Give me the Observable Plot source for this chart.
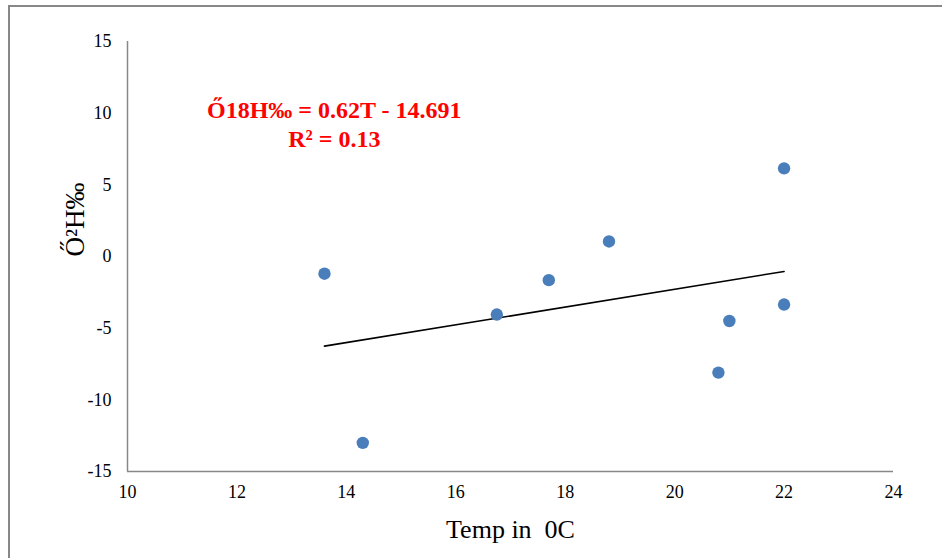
<!DOCTYPE html>
<html>
<head>
<meta charset="utf-8">
<script src="https://cdn.jsdelivr.net/npm/d3@7"></script>
<script src="https://cdn.jsdelivr.net/npm/@observablehq/plot@0.6"></script>
<style>
  html, body { margin: 0; padding: 0; background: #fff; overflow: hidden; }
  #wrap { position: relative; width: 942px; height: 558px; }
  #frame { position: absolute; left: 8px; top: 5px; width: 1000px; height: 600px;
           border-left: 2px solid #888; border-top: 2px solid #888; box-sizing: border-box; }
  #chart { position: absolute; left: 0; top: 0; }
</style>
</head>
<body>
<div id="wrap"><div id="frame"></div><div id="chart"></div></div>
<script>
// Data
const temps  = [13.6, 14.3, 16.75, 17.7, 18.8, 20.8, 21.0, 22.0, 22.0];
const d2H    = [-1.2, -13.0, -4.05, -1.65, 1.05, -8.1, -4.5, -3.35, 6.15];
const xTicks = [10, 12, 14, 16, 18, 20, 22, 24];
const yTicks = [-15, -10, -5, 0, 5, 10, 15];
const equationLines = ["Ő18H‰ = 0.62T - 14.691", "R² = 0.13"];

const data = temps.map((t, i) => ({t, h: d2H[i]}));
const serif = "Liberation Serif";

const chart = Plot.plot({
  width: 942,
  height: 558,
  marginLeft: 127,
  marginRight: 49,
  marginTop: 41,
  marginBottom: 87,
  style: {fontFamily: serif, fontSize: "18px", color: "#000", background: "transparent"},
  x: {domain: [10, 24], axis: null},
  y: {domain: [-15, 15], axis: null},
  marks: [
    Plot.ruleX([10], {stroke: "#888", strokeWidth: 1.5}),
    Plot.ruleY([-15], {stroke: "#888", strokeWidth: 1.5}),
    Plot.text(xTicks, {x: d => d, frameAnchor: "bottom", dy: 26, text: d => `${d}`, fontSize: 18, fontFamily: serif, fill: "#000"}),
    Plot.text(yTicks, {y: d => d, frameAnchor: "left", dx: -16, textAnchor: "end", text: d => `${d}`, fontSize: 18, fontFamily: serif, fill: "#000"}),
    Plot.linearRegressionY(data, {x: "t", y: "h", stroke: "#000", strokeWidth: 1.6, ci: 0}),
    Plot.dot(data, {x: "t", y: "h", r: 6.2, fill: "#4a7ebb", stroke: "none"}),
    Plot.text([equationLines[0]], {x: 13.78, y: 10.19, fill: "#ff0000", fontWeight: "bold", fontSize: 24, fontFamily: serif}),
    Plot.text([equationLines[1]], {x: 13.78, y: 8.2, fill: "#ff0000", fontWeight: "bold", fontSize: 24, fontFamily: serif}),
    Plot.text(["Ő²H‰"], {frameAnchor: "left", rotate: -90, dx: -52, fontSize: 27, fill: "#000", fontFamily: serif}),
    Plot.text(["Temp in\u00a0 0C"], {frameAnchor: "bottom", dy: 66, fontSize: 26, fill: "#000", fontFamily: serif})
  ]
});
document.getElementById("chart").appendChild(chart);
</script>
</body>
</html>
